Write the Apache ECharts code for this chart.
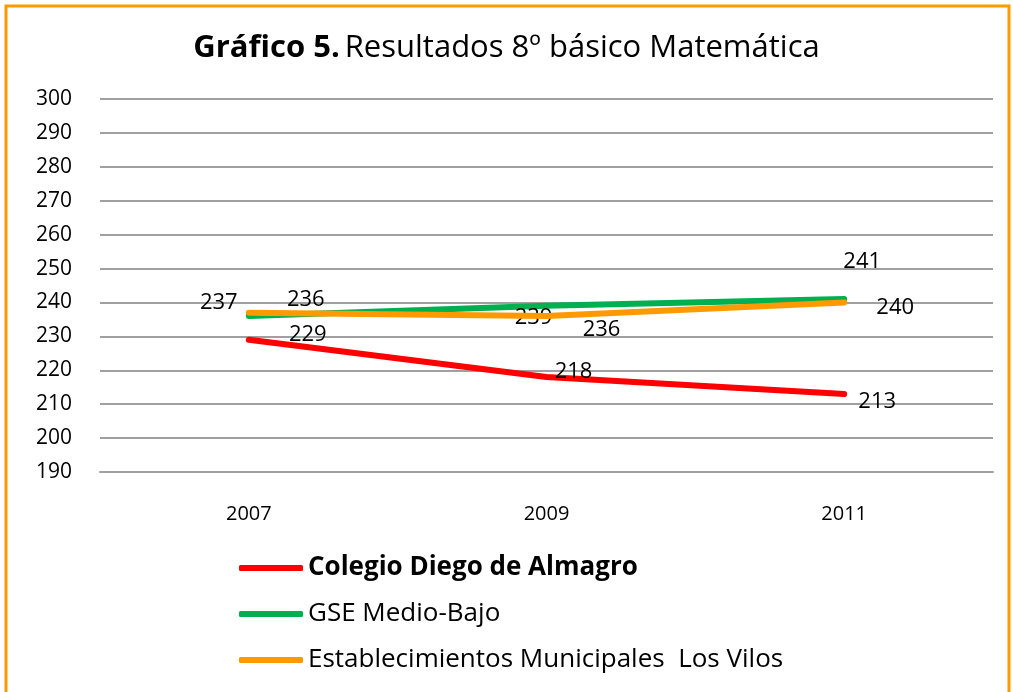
<!DOCTYPE html>
<html><head><meta charset="utf-8">
<script src="https://cdn.jsdelivr.net/npm/echarts@6/dist/echarts.min.js"></script>
<style>html,body{margin:0;padding:0;background:#fff;}#c{width:1013px;height:692px;}</style>
</head><body><div id="c"></div>
<script>
const categories = ['2007', '2009', '2011'];
const colegio = [229, 218, 213];
const gse = [236, 239, 241];
const municipales = [237, 236, 240];
const yTicks = {min: 190, max: 300, interval: 10};
const seriesNames = ['Colegio Diego de Almagro', 'GSE Medio-Bajo', 'Establecimientos Municipales  Los Vilos'];

const offsets = {
  colegio: [[59, -5], [27, -5], [33, 8]],
  gse: [[57, -16], [-13, 12], [18, -37]],
  municipales: [[-30, -10], [55, 14], [51, 5]]
};
const FONT = 'Open Sans';
function mk(vals, offs) {
  return vals.map((v, i) => ({
    value: v,
    label: {show: true, position: 'inside', offset: offs[i], align: 'center', verticalAlign: 'middle',
      color: '#000', fontSize: 22, fontFamily: FONT}
  }));
}
const chart = echarts.init(document.getElementById('c'));
chart.setOption({
  animation: false,
  backgroundColor: '#fff',
  title: {
    text: '{b|Gráfico 5.} {r|Resultados 8º básico Matemática}',
    left: 'center', top: 28,
    textStyle: {fontWeight: 'normal', rich: {
      b: {fontFamily: FONT, fontWeight: 'bold', fontSize: 31, color: '#000'},
      r: {fontFamily: FONT, fontWeight: 'normal', fontSize: 31, color: '#000'}
    }}
  },
  graphic: [{type: 'rect', shape: {x: 6, y: 6, width: 1003, height: 720}, style: {fill: 'none', stroke: '#FF9900', lineWidth: 3}, z: 100}],
  grid: {left: 100, right: 20, top: 99, bottom: 220},
  xAxis: {
    type: 'category', data: categories, boundaryGap: true,
    axisLine: {show: true, lineStyle: {color: '#a0a0a0', width: 2}},
    axisTick: {show: false},
    axisLabel: {margin: 32, fontSize: 20, fontFamily: FONT, color: '#000'}
  },
  yAxis: {
    type: 'value', min: yTicks.min, max: yTicks.max, interval: yTicks.interval,
    axisLine: {show: false}, axisTick: {show: false},
    axisLabel: {margin: 28, fontSize: 21, fontFamily: FONT, color: '#000'},
    splitLine: {lineStyle: {color: '#a0a0a0', width: 2}}
  },
  legend: {
    orient: 'vertical', left: 234, top: 550, itemGap: 20,
    itemWidth: 64, itemHeight: 6,
    icon: 'roundRect',
    data: seriesNames,
    formatter: function (n) { return n === seriesNames[0] ? '{b|' + n + '}' : '{r|' + n + '}'; },
    textStyle: {rich: {
      b: {fontFamily: FONT, fontWeight: 'bold', fontSize: 26, color: '#000'},
      r: {fontFamily: FONT, fontSize: 26, color: '#000'}
    }}
  },
  series: [
    {name: seriesNames[0], type: 'line', data: mk(colegio, offsets.colegio), color: '#FF0000',
      lineStyle: {width: 6, cap: 'round'}, symbol: 'circle', symbolSize: 1, z: 3},
    {name: seriesNames[1], type: 'line', data: mk(gse, offsets.gse), color: '#00B050',
      lineStyle: {width: 6, cap: 'round'}, symbol: 'circle', symbolSize: 1, z: 2},
    {name: seriesNames[2], type: 'line', data: mk(municipales, offsets.municipales), color: '#FF9900',
      lineStyle: {width: 6, cap: 'round'}, symbol: 'circle', symbolSize: 1, z: 4}
  ]
});
</script></body></html>
